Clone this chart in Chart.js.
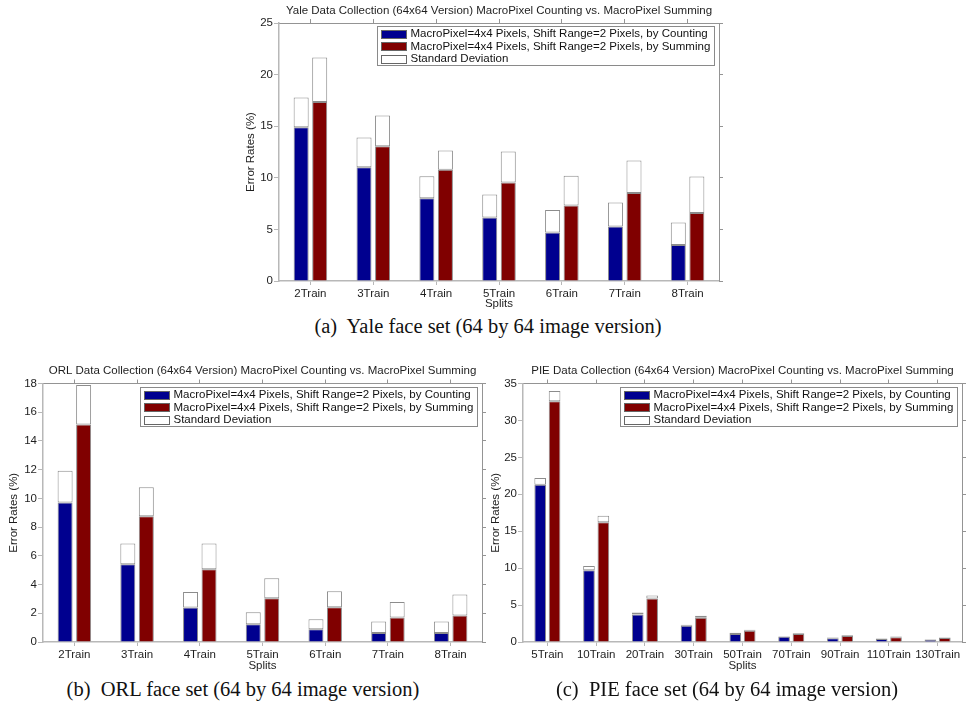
<!DOCTYPE html>
<html><head><meta charset="utf-8">
<script src="https://cdn.jsdelivr.net/npm/chart.js@4.4.1/dist/chart.umd.min.js"></script>
<style>
body{margin:0;background:#fff;width:970px;height:708px;overflow:hidden;position:relative;}
canvas{position:absolute;}
.cap{position:absolute;font-family:'Liberation Serif','Times New Roman',serif;font-size:20.5px;color:#111;white-space:pre;transform:translateX(-50%);line-height:20px;}
</style></head><body>
<canvas id="cA" width="970" height="311" style="left:0;top:0"></canvas>
<canvas id="cB" width="490" height="318" style="left:0;top:355px"></canvas>
<canvas id="cC" width="485" height="318" style="left:485px;top:355px"></canvas>
<div class="cap" style="left:488px;top:316px">(a)  Yale face set (64 by 64 image version)</div>
<div class="cap" style="left:243px;top:679px">(b)  ORL face set (64 by 64 image version)</div>
<div class="cap" style="left:727px;top:679px">(c)  PIE face set (64 by 64 image version)</div>
<script>
// ---------- DATA ----------
const countLabel = 'MacroPixel=4x4 Pixels, Shift Range=2 Pixels, by Counting';
const sumLabel = 'MacroPixel=4x4 Pixels, Shift Range=2 Pixels, by Summing';
const stdLabel = 'Standard Deviation';
const xTitle = 'Splits';
const yTitle = 'Error Rates (%)';

const yaleTitle = 'Yale Data Collection (64x64 Version) MacroPixel Counting vs. MacroPixel Summing';
const yaleLabels = ['2Train','3Train','4Train','5Train','6Train','7Train','8Train'];
const yaleCounting = [14.9, 11.03, 8.03, 6.16, 4.71, 5.29, 3.48];
const yaleCountingStd = [2.87, 2.87, 2.13, 2.23, 2.16, 2.32, 2.20];
const yaleSumming = [17.35, 13.06, 10.77, 9.55, 7.32, 8.52, 6.58];
const yaleSummingStd = [4.30, 2.97, 1.88, 3.00, 2.87, 3.16, 3.55];
const yaleTicks = [0, 5, 10, 15, 20, 25];

const orlTitle = 'ORL Data Collection (64x64 Version) MacroPixel Counting vs. MacroPixel Summing';
const orlLabels = ['2Train','3Train','4Train','5Train','6Train','7Train','8Train'];
const orlCounting = [9.72, 5.42, 2.40, 1.23, 0.88, 0.63, 0.63];
const orlCountingStd = [2.21, 1.44, 1.09, 0.84, 0.70, 0.79, 0.79];
const orlSumming = [15.15, 8.76, 5.07, 3.05, 2.42, 1.70, 1.84];
const orlSummingStd = [2.75, 2.01, 1.79, 1.39, 1.11, 1.09, 1.46];
const orlTicks = [0, 2, 4, 6, 8, 10, 12, 14, 16, 18];

const pieTitle = 'PIE Data Collection (64x64 Version) MacroPixel Counting vs. MacroPixel Summing';
const pieLabels = ['5Train','10Train','20Train','30Train','50Train','70Train','90Train','110Train','130Train'];
const pieCounting = [21.3, 9.7, 3.74, 2.2, 1.1, 0.7, 0.5, 0.4, 0.3];
const pieCountingStd = [0.9, 0.6, 0.26, 0.12, 0.14, 0.08, 0.1, 0.08, 0.08];
const pieSumming = [32.6, 16.2, 5.9, 3.3, 1.53, 1.1, 0.8, 0.65, 0.55];
const pieSummingStd = [1.4, 0.9, 0.4, 0.25, 0.14, 0.1, 0.1, 0.1, 0.07];
const pieTicks = [0, 5, 10, 15, 20, 25, 30, 35];

// ---------- STYLE ----------
const BLUE = '#00008f', RED = '#800000', EDGE = '#8c8c8c';
const AXIS_L = '#b8b8b8', AXIS_R = '#949494', TXT = '#1e1e1e';
const FONT = "'Liberation Sans', Arial, Helvetica, sans-serif";
const FS = 11.5;
Chart.defaults.font.family = FONT;
Chart.defaults.font.size = FS;
Chart.defaults.color = TXT;

const insideLegend = {
  id: 'insideLegend',
  afterDraw(chart) {
    const ctx = chart.ctx, ca = chart.chartArea;
    const seen = new Set(), items = [];
    chart.data.datasets.forEach(ds => { if (!seen.has(ds.label)) { seen.add(ds.label); items.push(ds); } });
    ctx.save();
    ctx.font = FS + 'px ' + FONT;
    let tw = 0;
    items.forEach(it => { tw = Math.max(tw, ctx.measureText(it.label).width); });
    const bw = Math.round(4 + 25 + 3 + tw + 5), bh = 39;
    const x0 = Math.round(ca.right - 5 - bw) + 0.5, y0 = Math.round(ca.top + 3) + 0.5;
    ctx.fillStyle = '#fff';
    ctx.fillRect(x0, y0, bw, bh);
    ctx.strokeStyle = '#8a8a8a'; ctx.lineWidth = 1;
    ctx.strokeRect(x0, y0, bw, bh);
    items.forEach((it, i) => {
      const cy = y0 + 7 + i * 12.6;
      ctx.fillStyle = it.backgroundColor;
      ctx.fillRect(x0 + 4, Math.round(cy - 4), 25, 8);
      ctx.strokeStyle = '#666';
      ctx.strokeRect(x0 + 4, Math.round(cy - 4) + 0.5, 25, 8);
      ctx.fillStyle = '#111';
      ctx.textBaseline = 'middle';
      ctx.textAlign = 'left';
      ctx.fillText(it.label, x0 + 33, cy + 0.5);
    });
    ctx.restore();
  }
};

function barSet(label, data, color, stack, isStd) {
  return {
    label, data, stack,
    backgroundColor: color,
    borderColor: EDGE,
    borderWidth: 1,
    borderSkipped: isStd ? false : 'start',
    categoryPercentage: 0.59,
    barPercentage: 0.81
  };
}

function makeChart(id, o) {
  const yMax = o.ticks[o.ticks.length - 1];
  const step = o.ticks[1] - o.ticks[0];
  return new Chart(document.getElementById(id), {
    type: 'bar',
    data: {
      labels: o.labels,
      datasets: [
        barSet(countLabel, o.counting, BLUE, 'count', false),
        barSet(sumLabel, o.summing, RED, 'sum', false),
        barSet(stdLabel, o.countingStd, '#ffffff', 'count', true),
        barSet(stdLabel, o.summingStd, '#ffffff', 'sum', true)
      ]
    },
    options: {
      responsive: false,
      animation: false,
      devicePixelRatio: 1,
      layout: { padding: o.pad },
      plugins: {
        legend: { display: false },
        tooltip: { enabled: false },
        title: {
          display: true, text: o.title, color: TXT, fullSize: false,
          font: { size: FS, weight: 'normal', lineHeight: 1 },
          padding: { top: 0, bottom: o.titleGap }
        }
      },
      scales: {
        x: {
          type: 'category', position: 'bottom', stacked: true, offset: true,
          grid: { display: true, offset: false, drawOnChartArea: false, drawTicks: true, tickLength: 4, color: AXIS_L },
          border: { display: true, color: AXIS_L, width: 1.5 },
          ticks: { color: TXT, font: { size: FS }, padding: 2, maxRotation: 0, autoSkip: false },
          title: { display: true, text: xTitle, color: TXT, font: { size: FS }, padding: 0 },
          afterFit: s => { s.height = o.hb; }
        },
        x2: {
          type: 'category', position: 'top', offset: true,
          grid: { display: true, offset: false, drawOnChartArea: false, drawTicks: true, tickLength: 4, color: AXIS_R },
          border: { display: true, color: AXIS_R, width: 1 },
          ticks: { display: false },
          afterFit: s => { s.height = 5; }
        },
        y: {
          type: 'linear', position: 'left', stacked: true, min: 0, max: yMax,
          ticks: { stepSize: step, color: TXT, font: { size: FS }, padding: 1 },
          grid: { display: true, drawOnChartArea: false, drawTicks: true, tickLength: 5, color: AXIS_L },
          border: { display: true, color: AXIS_L, width: 1.5 },
          title: { display: true, text: yTitle, color: TXT, font: { size: FS }, padding: 0 },
          afterFit: s => { s.width = o.wl; }
        },
        y2: {
          type: 'linear', position: 'right', min: 0, max: yMax,
          ticks: { display: false, stepSize: step },
          grid: { display: true, drawOnChartArea: false, drawTicks: true, tickLength: 4, color: AXIS_R },
          border: { display: true, color: AXIS_R, width: 1 },
          afterFit: s => { s.width = 6; }
        }
      }
    },
    plugins: [insideLegend]
  });
}

makeChart('cA', {
  labels: yaleLabels, counting: yaleCounting, countingStd: yaleCountingStd,
  summing: yaleSumming, summingStd: yaleSummingStd, ticks: yaleTicks, title: yaleTitle,
  pad: { left: 244, right: 245, top: 5.5, bottom: 0 }, titleGap: 1, wl: 35, hb: 30
});
makeChart('cB', {
  labels: orlLabels, counting: orlCounting, countingStd: orlCountingStd,
  summing: orlSumming, summingStd: orlSummingStd, ticks: orlTicks, title: orlTitle,
  pad: { left: 7, right: 2, top: 10, bottom: 0 }, titleGap: 2, wl: 36, hb: 31
});
makeChart('cC', {
  labels: pieLabels, counting: pieCounting, countingStd: pieCountingStd,
  summing: pieSumming, summingStd: pieSummingStd, ticks: pieTicks, title: pieTitle,
  pad: { left: 4, right: 2, top: 10, bottom: 0 }, titleGap: 2, wl: 34, hb: 31
});
</script>
</body></html>
